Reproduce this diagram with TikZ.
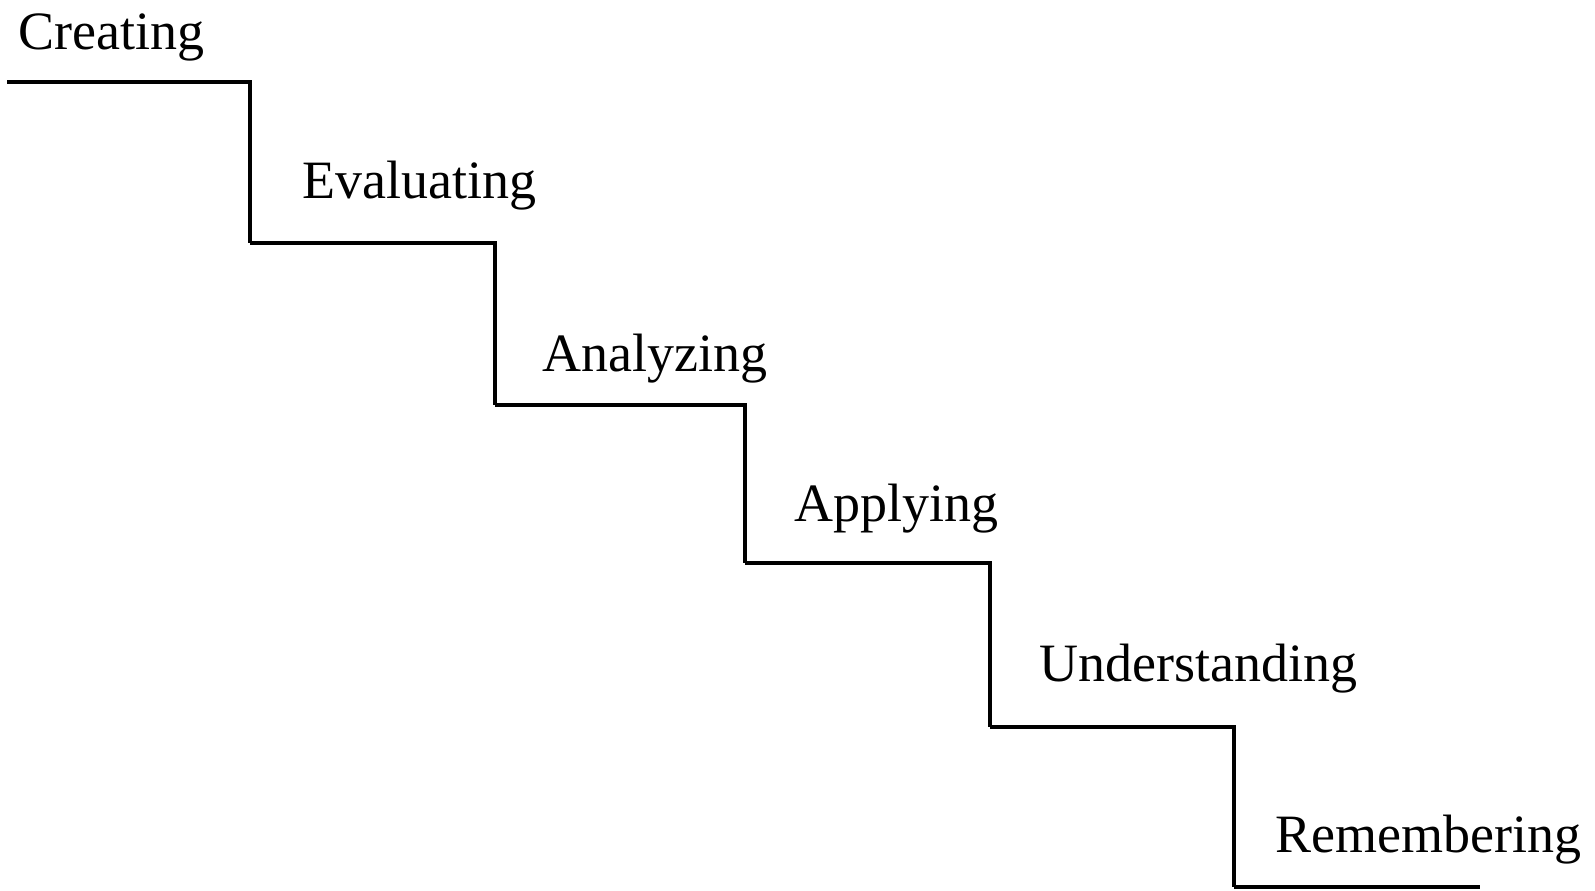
\documentclass[tikz,border=0pt]{standalone}
\usepackage{fontspec}
\setmainfont{Liberation Serif}
\usetikzlibrary{positioning}

\begin{document}
\begin{tikzpicture}[x=0.5pt,y=-0.5pt,
    stairline/.style={line width=1.6pt},
    levellabel/.style={anchor=base west,inner sep=0pt,font=\fontsize{27pt}{32pt}\selectfont}]
  \useasboundingbox (0,0) rectangle (1595,890);
  % levels from top to bottom: label, tread start/end, tread height, riser bottom, label position
  \foreach [count=\i] \lab/\xa/\xb/\ya/\yb/\tx/\ty in {
      Creating/7/250/82/243/18/49,
      Evaluating/250/495/243/405/302/198,
      Analyzing/495/745/405/563/542/371,
      Applying/745/990/563/727/794/521,
      Understanding/990/1234/727/887/1039/681} {
    \draw[stairline] (\xa,\ya) -- (\xb,\ya) -- (\xb,\yb);
    \node[levellabel] (lvl\i) at (\tx,\ty) {\lab};
  }
  % last step
  \node[levellabel] (lvl6) at (1275,852) {Remembering};
  \draw[stairline] (1234,887) -- (1480,887);
\end{tikzpicture}
\end{document}
